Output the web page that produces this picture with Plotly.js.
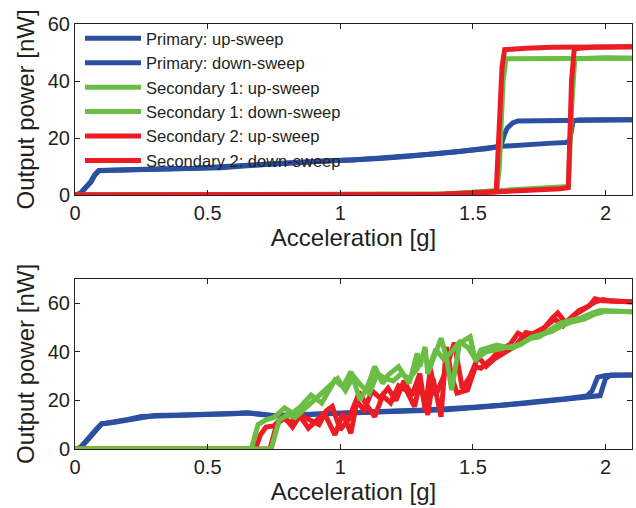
<!DOCTYPE html>
<html>
<head>
<meta charset="utf-8">
<script src="https://cdn.plot.ly/plotly-3.0.1.min.js"></script>
<style>html,body{margin:0;padding:0;background:#fff;}#chart{width:636px;height:508px;}</style>
</head>
<body>
<div id="chart"></div>
<script>
// ---------- Top panel data ----------
const topPrimUpX = [0, 0.02, 0.04, 0.06, 0.075, 0.09, 0.15, 0.3, 0.45, 0.55, 0.65, 0.75, 0.85, 0.95, 1.05, 1.15, 1.25, 1.35, 1.45, 1.55, 1.6, 1.65, 1.7, 1.75, 1.8, 1.85, 1.865, 1.878, 1.9, 2.0, 2.1];
const topPrimUpY = [0, 0.5, 2.5, 4.5, 7, 8.5, 8.7, 9, 9.3, 9.6, 10.3, 11, 11.4, 11.9, 12.2, 12.8, 13.5, 14.3, 15.2, 16.2, 17, 17.4, 17.6, 17.8, 18.2, 18.4, 19, 26, 26.3, 26.4, 26.4];
const topPrimDnX = [2.1, 2.0, 1.9, 1.8, 1.7, 1.67, 1.65, 1.63, 1.62, 1.61, 1.6, 1.55, 1.45, 1.35, 1.25, 1.15, 1.05, 0.95, 0.85, 0.75, 0.65, 0.55, 0.45, 0.3, 0.15, 0.09, 0.075, 0.06, 0.04, 0.02, 0];
const topPrimDnY = [26.4, 26.4, 26.3, 26.3, 26.2, 26, 25.3, 23.5, 21.5, 18.5, 17, 16.3, 15.3, 14.4, 13.6, 12.9, 12.3, 12, 11.5, 11, 10.4, 9.7, 9.4, 9.1, 8.8, 8.6, 7.2, 4.8, 2.7, 0.6, 0];

const topSec1UpX = [0, 1.36, 1.4, 1.5, 1.6, 1.7, 1.8, 1.86, 1.872, 1.884, 1.95, 2.0, 2.1];
const topSec1UpY = [0, 0, 0.4, 1.0, 1.6, 2.0, 2.4, 3, 30, 47.8, 48, 48.2, 48];
const topSec1DnX = [2.1, 2.0, 1.9, 1.8, 1.7, 1.625, 1.614, 1.6, 1.59, 1.5, 1.4, 1.36, 0];
const topSec1DnY = [48, 48, 48.2, 48, 48, 47.8, 40, 10, 1.5, 1.0, 0.4, 0, 0];

const topSec2UpX = [0, 1.3, 1.4, 1.5, 1.58, 1.65, 1.75, 1.83, 1.86, 1.872, 1.882, 1.9, 1.95, 2.0, 2.05, 2.1];
const topSec2UpY = [0, 0, 0.3, 0.7, 1.0, 1.4, 1.8, 2.2, 2.6, 40, 51, 51.5, 51.8, 52, 51.8, 52];
const topSec2DnX = [2.1, 2.0, 1.9, 1.8, 1.7, 1.65, 1.62, 1.61, 1.598, 1.588, 1.5, 1.4, 1.3, 0];
const topSec2DnY = [52, 52, 52, 51.8, 51.5, 51.3, 51, 45, 20, 1.2, 0.7, 0.3, 0, 0];

// ---------- Bottom panel data ----------
const botPrimUpX = [0, 0.02, 0.05, 0.08, 0.10, 0.15, 0.2, 0.25, 0.3, 0.4, 0.5, 0.6, 0.65, 0.7, 0.75, 0.8, 0.9, 1.0, 1.1, 1.2, 1.3, 1.4, 1.5, 1.6, 1.7, 1.8, 1.85, 1.9, 1.95, 1.98, 2.0, 2.02, 2.1];
const botPrimUpY = [0, 0.5, 4, 8, 10.3, 11, 12, 13.3, 13.8, 14, 14.2, 14.3, 14.8, 14.2, 13.8, 14, 14.3, 14.6, 15, 15.4, 15.8, 16.2, 17, 17.8, 18.8, 20, 20.5, 21, 21.8, 22, 29, 30.5, 30.5];
const botPrimDnX = [2.1, 2.0, 1.97, 1.95, 1.93, 1.9, 1.85, 1.8, 1.7, 1.6, 1.5, 1.4, 1.3, 1.2, 1.1, 1.0, 0.9, 0.8, 0.75, 0.7, 0.65, 0.6, 0.5, 0.4, 0.3, 0.25, 0.2, 0.15, 0.10, 0.08, 0.05, 0.02, 0];
const botPrimDnY = [30.5, 30.3, 29.5, 24, 21.8, 21.2, 20.7, 20.2, 19, 18, 17.2, 16.4, 16, 15.6, 15.2, 14.8, 14.5, 14.2, 13.6, 14.4, 14.9, 14.5, 14.3, 14.1, 13.9, 13.4, 12.2, 11.2, 10.4, 8.2, 4.2, 0.6, 0];

const botSec1UpX = [0, 0.665, 0.69, 0.72, 0.75, 0.79, 0.82, 0.85, 0.89, 0.93, 0.98, 1.01, 1.04, 1.075, 1.10, 1.13, 1.16, 1.18, 1.22, 1.26, 1.29, 1.30, 1.32, 1.33, 1.38, 1.40, 1.42, 1.45, 1.49, 1.51, 1.53, 1.59, 1.65, 1.72, 1.75, 1.79, 1.83, 1.87, 1.91, 1.95, 1.98, 2.02, 2.1];
const botSec1UpY = [0, 0, 10, 12, 13, 16.9, 14.8, 17.4, 22.2, 18.9, 28.4, 25.6, 31.8, 20.2, 25, 33.9, 27, 30.4, 33.9, 27, 39.4, 33.9, 42, 31, 45.6, 38, 24.3, 43.6, 46.2, 36, 40.7, 42.8, 41.5, 45.6, 46.2, 49, 51.8, 53, 54, 56, 57, 56.8, 56.5];
const botSec1DnX = [2.1, 2.05, 2.00, 1.96, 1.92, 1.88, 1.84, 1.80, 1.76, 1.72, 1.68, 1.64, 1.60, 1.55, 1.51, 1.48, 1.45, 1.42, 1.39, 1.36, 1.34, 1.31, 1.29, 1.26, 1.23, 1.20, 1.17, 1.14, 1.11, 1.08, 1.05, 1.02, 0.99, 0.96, 0.93, 0.90, 0.86, 0.83, 0.80, 0.77, 0.74, 0];
const botSec1DnY = [56.5, 56.5, 56.8, 55.5, 53.5, 52.5, 51, 48.5, 47, 46, 43, 42, 41, 40, 37, 42, 44, 40, 37, 41, 35, 38, 33, 29, 31, 28, 29, 31, 23, 26, 30, 24, 29, 26, 23, 20, 16, 13, 14, 12, 0, 0];

const botSec2UpX = [0, 0.68, 0.70, 0.72, 0.75, 0.78, 0.81, 0.85, 0.88, 0.91, 0.94, 0.98, 1.01, 1.04, 1.07, 1.10, 1.13, 1.16, 1.19, 1.22, 1.25, 1.28, 1.30, 1.33, 1.35, 1.38, 1.40, 1.42, 1.44, 1.48, 1.51, 1.53, 1.57, 1.60, 1.64, 1.67, 1.70, 1.73, 1.77, 1.80, 1.82, 1.85, 1.88, 1.91, 1.94, 1.96, 1.99, 2.03, 2.1];
const botSec2UpY = [0, 0, 6, 9, 9.5, 13, 11, 13.3, 8.6, 12, 14.8, 5.8, 14.8, 6.5, 23.6, 18, 13.3, 22, 19, 26, 24, 17.4, 27, 14, 29, 13.3, 42, 30, 23, 24.3, 33.9, 33.3, 37, 40.7, 43, 47.7, 46, 47.7, 50, 54, 56, 52, 55, 57, 59, 61.8, 61, 60.8, 60.6];
const botSec2DnX = [2.1, 2.06, 2.02, 1.99, 1.96, 1.93, 1.90, 1.87, 1.84, 1.81, 1.78, 1.74, 1.70, 1.66, 1.62, 1.58, 1.55, 1.52, 1.49, 1.46, 1.43, 1.41, 1.39, 1.36, 1.34, 1.32, 1.30, 1.27, 1.24, 1.21, 1.18, 1.15, 1.12, 1.09, 1.06, 1.03, 1.00, 0.97, 0.95, 0.92, 0.88, 0.85, 0.82, 0.79, 0.76, 0.735, 0];
const botSec2DnY = [60.5, 60.6, 61, 61.5, 60.5, 58.5, 57, 54, 50.7, 53.5, 51, 47, 48, 42.4, 39.6, 37, 34, 38, 30, 25, 43.8, 36, 30, 22, 33, 16, 31, 22, 28, 20, 25, 21, 24, 16, 20, 12, 8, 17.5, 16, 10, 12, 14, 9, 13, 10, 0, 0];

const legendNames = ["Primary: up-sweep", "Primary: down-sweep", "Secondary 1: up-sweep", "Secondary 1: down-sweep", "Secondary 2: up-sweep", "Secondary 2: down-sweep"];
const tickVals = [0, 0.5, 1, 1.5, 2];
const tickText = ["0", "0.5", "1", "1.5", "2"];

const BLUE = "#2d4fa1", GREEN = "#6cbd45", RED = "#ec1c24";
const LW = 5;

function tr(x, y, color, name, ax, show) {
  return {x: x, y: y, type: "scatter", mode: "lines", name: name,
    line: {color: color, width: LW}, xaxis: ax === 1 ? "x" : "x2", yaxis: ax === 1 ? "y" : "y2",
    showlegend: show, hoverinfo: "skip"};
}

const data = [
  tr(topPrimUpX, topPrimUpY, BLUE, legendNames[0], 1, true),
  tr(topPrimDnX, topPrimDnY, BLUE, legendNames[1], 1, true),
  tr(topSec1UpX, topSec1UpY, GREEN, legendNames[2], 1, true),
  tr(topSec1DnX, topSec1DnY, GREEN, legendNames[3], 1, true),
  tr(topSec2UpX, topSec2UpY, RED, legendNames[4], 1, true),
  tr(topSec2DnX, topSec2DnY, RED, legendNames[5], 1, true),
  tr(botPrimUpX, botPrimUpY, BLUE, legendNames[0], 2, false),
  tr(botPrimDnX, botPrimDnY, BLUE, legendNames[1], 2, false),
  tr(botSec2UpX, botSec2UpY, RED, legendNames[4], 2, false),
  tr(botSec2DnX, botSec2DnY, RED, legendNames[5], 2, false),
  tr(botSec1UpX, botSec1UpY, GREEN, legendNames[2], 2, false),
  tr(botSec1DnX, botSec1DnY, GREEN, legendNames[3], 2, false)
];

const FONT = "Liberation Sans, Arial, sans-serif";
const TXT = "#231f20";

function xax(anchor) {
  return {domain: [75/636, 632/636], range: [0, 2.1], anchor: anchor,
    tickvals: tickVals, ticktext: tickText, ticks: "inside", ticklen: 5, tickcolor: "#222",
    showline: true, linecolor: "#222", linewidth: 1, mirror: "ticks", showgrid: false, zeroline: false,
    tickfont: {family: FONT, size: 20, color: TXT},
    title: {text: "Acceleration [g]", font: {family: FONT, size: 24, color: TXT}, standoff: 2}};
}
function yax(anchor, dom, rng, tv) {
  return {domain: dom, range: rng, anchor: anchor, tickvals: tv,
    ticks: "inside", ticklen: 5, tickcolor: "#222",
    showline: true, linecolor: "#222", linewidth: 1, mirror: "ticks", showgrid: false, zeroline: false,
    tickfont: {family: FONT, size: 20, color: TXT},
    title: {text: "Output power [nW]", font: {family: FONT, size: 24, color: TXT}, standoff: 6}};
}

const layout = {
  width: 636, height: 508,
  margin: {l: 0, r: 0, t: 0, b: 0},
  paper_bgcolor: "#fff", plot_bgcolor: "#fff",
  font: {family: FONT, color: TXT},
  showlegend: true,
  legend: {x: 80/636, y: 1 - 21/508, xanchor: "left", yanchor: "top",
    bgcolor: "rgba(0,0,0,0)", borderwidth: 0, itemwidth: 56,
    font: {family: FONT, size: 16.5, color: TXT}, tracegroupgap: 0},
  xaxis: xax("y"),
  yaxis: yax("x", [(508-195)/508, (508-24)/508], [0, 60], [0, 20, 40, 60]),
  xaxis2: xax("y2"),
  yaxis2: yax("x2", [(508-449)/508, (508-279)/508], [0, 70], [0, 20, 40, 60])
};

Plotly.newPlot("chart", data, layout, {displayModeBar: false, staticPlot: true});
</script>
</body>
</html>
